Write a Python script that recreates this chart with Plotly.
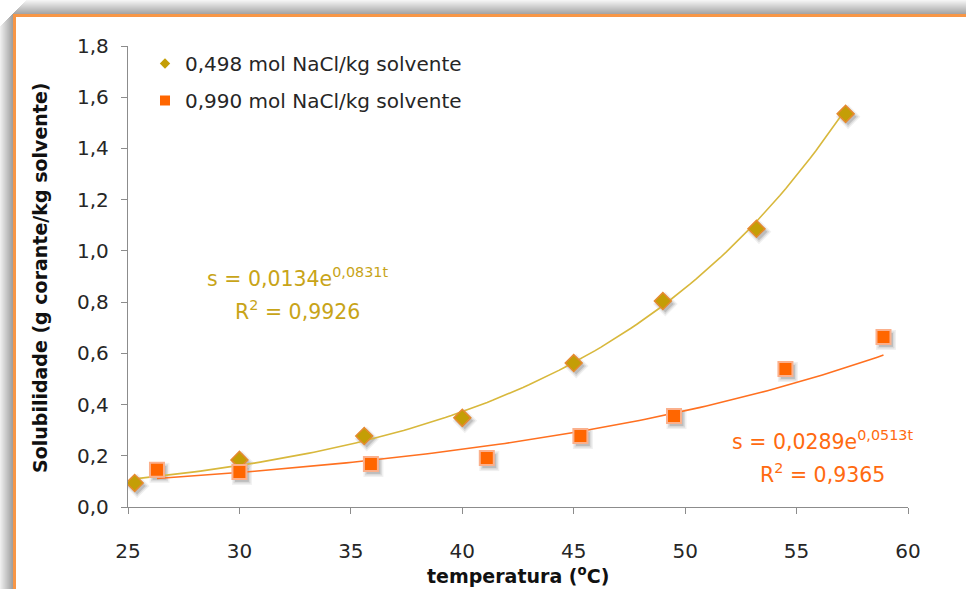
import numpy as np
import plotly.graph_objects as go

# Solubility of the dye vs temperature at two NaCl concentrations
t_498 = [25.3, 30.0, 35.6, 40.0, 45.0, 49.0, 53.2, 57.2]
s_498 = [0.094, 0.184, 0.277, 0.348, 0.562, 0.804, 1.086, 1.535]

t_990 = [26.3, 30.0, 35.9, 41.1, 45.3, 49.5, 54.5, 58.9]
s_990 = [0.145, 0.137, 0.168, 0.191, 0.277, 0.355, 0.539, 0.664]

# Exponential fits s = a * exp(b t) and their R^2
fit_498 = (0.0134, 0.0831, 0.9926)
fit_990 = (0.0289, 0.0513, 0.9365)

series_names = ["0,498 mol NaCl/kg solvente", "0,990 mol NaCl/kg solvente"]
y_ticks = [0.0, 0.2, 0.4, 0.6, 0.8, 1.0, 1.2, 1.4, 1.6, 1.8]
x_ticks = [25, 30, 35, 40, 45, 50, 55, 60]

X_RANGE = [25, 60]
Y_RANGE = [0, 1.8]

W, H = 966, 589
L, R, T, B = 128, 908, 46, 507

FONT = "DejaVu Sans"
GOLD = "#C8A418"
GOLD_FILL = "#C49E06"
GOLD_LINE = "#D8B83C"
GOLD_EDGE = "#E58A30"
ORANGE = "#FF6600"
ORANGE_EDGE = "#FBB08C"
ORANGE_LINE = "#FF7020"
ORANGE_TEXT = "#FF6A10"
AXIS = "#8C8C8C"
TEXT = "#262626"


def px(x):
    return (x - L) / (R - L)


def py(y):
    return (B - y) / (B - T)


def fmt(v):
    return f"{v:.1f}".replace(".", ",")


def fit_curve(t, coef):
    a, b, _ = coef
    tt = np.linspace(min(t), max(t), 120)
    return tt, a * np.exp(b * tt)


# pixel-size offsets for the marker drop shadow, expressed in axis units
sx = 2.5 * (X_RANGE[1] - X_RANGE[0]) / (R - L)
sy = 3.0 * (Y_RANGE[1] - Y_RANGE[0]) / (B - T)

fig = go.Figure()

# soft shadows (drawn on a shifted overlay axis pair)
for t, s, sym, size in [(t_498, s_498, "diamond", 13), (t_990, s_990, "square", 14)]:
    for extra, alpha in [(6, 0.06), (3, 0.09), (0, 0.13)]:
        fig.add_trace(go.Scatter(
            x=t, y=s, mode="markers", xaxis="x2", yaxis="y2", showlegend=False,
            hoverinfo="skip",
            marker=dict(symbol=sym, size=size + extra, color=f"rgba(0,0,0,{alpha})",
                        line=dict(width=0)),
        ))

# trend lines
tt, ss = fit_curve(t_498, fit_498)
fig.add_trace(go.Scatter(x=tt, y=ss, mode="lines", xaxis="x3", yaxis="y3",
                         showlegend=False, line=dict(color=GOLD_LINE, width=1.6)))
tt, ss = fit_curve(t_990, fit_990)
fig.add_trace(go.Scatter(x=tt, y=ss, mode="lines", xaxis="x3", yaxis="y3",
                         showlegend=False, line=dict(color=ORANGE_LINE, width=1.6)))

# data markers
fig.add_trace(go.Scatter(
    x=t_498, y=s_498, mode="markers", xaxis="x3", yaxis="y3", showlegend=False,
    marker=dict(symbol="diamond", size=13, color=GOLD_FILL,
                line=dict(color=GOLD_EDGE, width=1.5)),
))
fig.add_trace(go.Scatter(
    x=t_990, y=s_990, mode="markers", xaxis="x3", yaxis="y3", showlegend=False,
    marker=dict(symbol="square", size=14, color=ORANGE,
                line=dict(color=ORANGE_EDGE, width=2)),
))

# legend entries
fig.add_trace(go.Scatter(
    x=[None], y=[None], mode="markers", name=series_names[0], legendgroup="a",
    marker=dict(symbol="diamond", size=8, color=GOLD_FILL),
))
fig.add_trace(go.Scatter(
    x=[None], y=[None], mode="markers", name=series_names[1], legendgroup="b",
    marker=dict(symbol="square", size=10, color=ORANGE),
))

annotations = []


def eq_text(coef):
    a, b, _ = coef
    return (f"s = {a:.4f}".replace(".", ",") + "e"
            + f"<sup>{b:.4f}".replace(".", ",") + "t</sup>")


def r2_text(coef):
    return "R<sup>2</sup> = " + f"{coef[2]:.4f}".replace(".", ",")


for coef, color, cx, y1, y2 in [(fit_498, GOLD, 297, 277, 310),
                                 (fit_990, ORANGE_TEXT, 822, 440, 473)]:
    for txt, yy in [(eq_text(coef), y1), (r2_text(coef), y2)]:
        annotations.append(dict(text=txt, x=px(cx), y=py(yy), xref="paper", yref="paper",
                                xanchor="center", yanchor="middle", showarrow=False,
                                font=dict(family=FONT, size=20.5, color=color)))

annotations.append(dict(text="<b>Solubilidade (g corante/kg solvente)</b>", textangle=-90,
                        x=px(40), y=py(278), xref="paper", yref="paper", showarrow=False,
                        xanchor="center", yanchor="middle",
                        font=dict(family=FONT, size=19, color="#111111")))
annotations.append(dict(text="<b>temperatura (<sup>o</sup>C)</b>",
                        x=px(518), y=py(575), xref="paper", yref="paper", showarrow=False,
                        xanchor="center", yanchor="middle",
                        font=dict(family=FONT, size=19, color="#111111")))

# frame: grey drop shadow and orange border
shapes = []
for i in range(13):
    g = int(238 - i * 6.5)
    shapes.append(dict(type="rect", xref="paper", yref="paper", layer="below",
                       x0=px(i), x1=px(i + 1), y0=py(H), y1=py(26 - i),
                       line=dict(width=0), fillcolor=f"rgb({g},{g},{g})"))
for j in range(14):
    g = int(244 - j * 6)
    shapes.append(dict(type="rect", xref="paper", yref="paper", layer="below",
                       x0=px(max(13, 26 - j)), x1=px(W), y0=py(j + 1), y1=py(j),
                       line=dict(width=0), fillcolor=f"rgb({g},{g},{g})"))
shapes.append(dict(type="rect", xref="paper", yref="paper", layer="below",
                   x0=px(13), x1=px(W), y0=py(17), y1=py(14),
                   line=dict(width=0), fillcolor="#F79646"))
shapes.append(dict(type="rect", xref="paper", yref="paper", layer="below",
                   x0=px(13), x1=px(16), y0=py(H), y1=py(14),
                   line=dict(width=0), fillcolor="#F79646"))

axis_common = dict(showgrid=False, zeroline=False)
fig.update_layout(
    width=W, height=H,
    margin=dict(l=L, r=W - R, t=T, b=H - B),
    paper_bgcolor="white", plot_bgcolor="white",
    font=dict(family=FONT, color=TEXT),
    xaxis=dict(range=X_RANGE, tickvals=x_ticks, ticktext=[str(v) for v in x_ticks],
               showline=True, linecolor=AXIS, linewidth=1.3, ticks="outside", ticklen=6,
               tickcolor=AXIS, tickwidth=1.3, tickfont=dict(size=20, color=TEXT),
               ticklabelstandoff=20, **axis_common),
    yaxis=dict(range=Y_RANGE, tickvals=y_ticks, ticktext=[fmt(v) for v in y_ticks],
               showline=True, linecolor=AXIS, linewidth=1.3, ticks="outside", ticklen=6,
               tickcolor=AXIS, tickwidth=1.3, tickfont=dict(size=20, color=TEXT),
               ticklabelstandoff=8, **axis_common),
    xaxis2=dict(range=[X_RANGE[0] - sx, X_RANGE[1] - sx], overlaying="x", visible=False,
                **axis_common),
    yaxis2=dict(range=[Y_RANGE[0] + sy, Y_RANGE[1] + sy], overlaying="y", visible=False,
                **axis_common),
    xaxis3=dict(range=X_RANGE, overlaying="x", visible=False, **axis_common),
    yaxis3=dict(range=Y_RANGE, overlaying="y", visible=False, **axis_common),
    legend=dict(x=px(145), y=py(44), xanchor="left", yanchor="top",
                bgcolor="rgba(0,0,0,0)", font=dict(family=FONT, size=20, color=TEXT),
                tracegroupgap=8, itemclick=False),
    annotations=annotations,
    shapes=shapes,
)

fig.write_html("out.html")
